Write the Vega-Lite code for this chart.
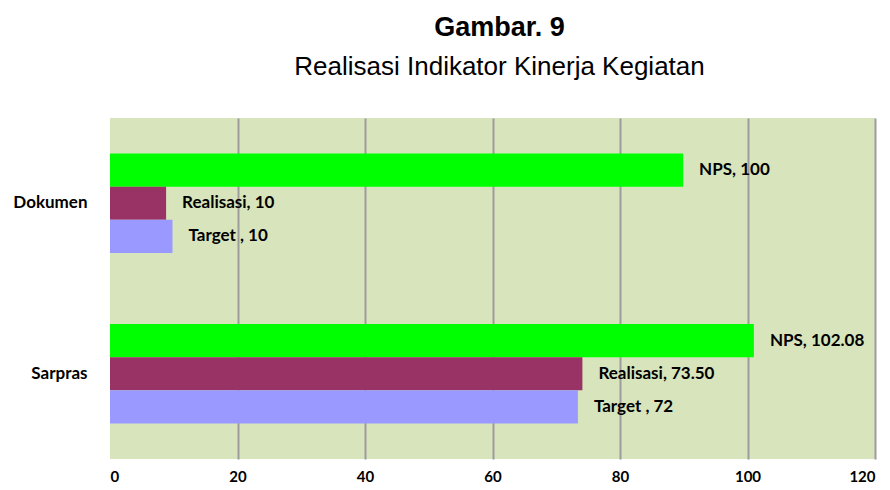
{
  "$schema": "https://vega.github.io/schema/vega-lite/v6.json",
  "width": 765,
  "height": 341,
  "autosize": {"type": "none"},
  "padding": {"left": 110, "top": 118, "right": 15, "bottom": 31},
  "background": "white",
  "title": {
    "text": "Gambar. 9",
    "subtitle": "Realisasi Indikator Kinerja Kegiatan",
    "anchor": "middle",
    "dx": 7,
    "font": "Liberation Sans, Arial, sans-serif",
    "fontSize": 27,
    "fontWeight": "bold",
    "color": "black",
    "subtitleFont": "Liberation Sans, Arial, sans-serif",
    "subtitleFontSize": 26,
    "subtitleColor": "black",
    "subtitlePadding": 12,
    "offset": 37
  },
  "config": {
    "view": {"stroke": null, "fill": "#D8E4BC"}
  },
  "data": {
    "values": [
      {"category": "Dokumen", "series": "NPS", "value": 89.9, "label": "NPS, 100"},
      {"category": "Dokumen", "series": "Realisasi", "value": 8.8, "label": "Realisasi, 10"},
      {"category": "Dokumen", "series": "Target", "value": 9.8, "label": "Target , 10"},
      {"category": "Sarpras", "series": "NPS", "value": 101.0, "label": "NPS, 102.08"},
      {"category": "Sarpras", "series": "Realisasi", "value": 74.1, "label": "Realisasi, 73.50"},
      {"category": "Sarpras", "series": "Target", "value": 73.4, "label": "Target , 72"}
    ]
  },
  "encoding": {
    "y": {
      "field": "category",
      "type": "nominal",
      "sort": ["Dokumen", "Sarpras"],
      "scale": {"paddingInner": 0.415, "paddingOuter": 0.2075},
      "axis": {
        "title": null,
        "domain": false,
        "ticks": false,
        "labelFont": "Lato",
        "labelFontWeight": "bold",
        "labelFontSize": 17,
        "labelColor": "black",
        "labelPadding": 23
      }
    },
    "yOffset": {
      "field": "series",
      "type": "nominal",
      "sort": ["NPS", "Realisasi", "Target"],
      "scale": {"paddingInner": 0, "paddingOuter": 0}
    },
    "x": {
      "field": "value",
      "type": "quantitative",
      "scale": {"domain": [0, 120], "nice": false},
      "axis": {
        "title": null,
        "values": [0, 20, 40, 60, 80, 100, 120],
        "domain": false,
        "ticks": false,
        "grid": true,
        "gridColor": {"condition": {"test": "datum.value === 0", "value": "transparent"}, "value": "#9C9C9C"},
        "gridWidth": 2,
        "labelFont": "Lato",
        "labelFontWeight": "bold",
        "labelFontSize": 15,
        "labelColor": "black",
        "labelPadding": 10
      }
    }
  },
  "layer": [
    {
      "mark": {"type": "bar"},
      "encoding": {
        "color": {
          "field": "series",
          "type": "nominal",
          "scale": {"domain": ["NPS", "Realisasi", "Target"], "range": ["#00FF00", "#993366", "#9999FF"]},
          "legend": null
        }
      }
    },
    {
      "mark": {"type": "text", "align": "left", "baseline": "middle", "dx": 16, "font": "Lato", "fontWeight": "bold", "fontSize": 17, "color": "black"},
      "encoding": {
        "text": {"field": "label", "type": "nominal"}
      }
    }
  ]
}
